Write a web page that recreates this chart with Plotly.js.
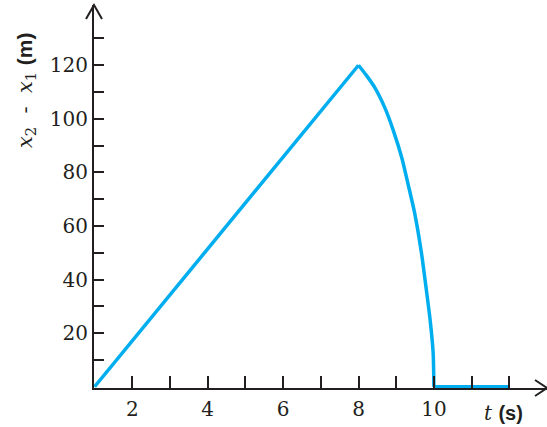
<!DOCTYPE html>
<html>
<head>
<meta charset="utf-8">
<script src="https://cdn.plot.ly/plotly-3.0.1.min.js"></script>
<style>html,body{margin:0;padding:0;background:#fff;}#chart{width:547px;height:427px;}</style>
</head>
<body>
<div id="chart"></div>
<script>
// Relative position of the two stones (x2 - x1, m) vs time (s)
const riseT = [1, 8];
const riseY = [0, 120];
const fallT = [8, 8.20, 8.44, 8.70, 8.92, 9.15, 9.32, 9.49, 9.67, 9.79, 9.90, 9.98, 10];
const fallY = [120, 116.4, 111.5, 104.1, 95.8, 85.4, 75.3, 64.8, 49.9, 37.2, 24.9, 12.6, 0];
const restT = [10, 12];
const restY = [0, 0];

const xMajorTicks = [2, 4, 6, 8, 10];
const xMinorTicks = [3, 5, 7, 9, 11, 12];
const yMajorTicks = [20, 40, 60, 80, 100, 120];
const yMinorTicks = [10, 30, 50, 70, 90, 110, 130];

const ink = '#231f20';
const cyan = '#00aeef';
const tickFont = {family: 'DejaVu Serif', size: 20, color: ink};

function seg(x, y, shape) {
  return {x: x, y: y, type: 'scatter', mode: 'lines',
          line: {color: cyan, width: 3.5, shape: shape, smoothing: 0.6},
          hoverinfo: 'skip'};
}

const data = [seg(riseT, riseY, 'linear'), seg(fallT, fallY, 'spline'), seg(restT, restY, 'linear')];

const layout = {
  width: 547, height: 427,
  margin: {l: 94, r: 0, t: 5, b: 39},
  paper_bgcolor: '#ffffff', plot_bgcolor: '#ffffff',
  showlegend: false,
  xaxis: {
    range: [0.984, 13.0], showgrid: false, zeroline: false,
    showline: true, linecolor: ink, linewidth: 2,
    ticks: 'inside', ticklen: 12, tickwidth: 2, tickcolor: ink,
    tickmode: 'array', tickvals: xMajorTicks, ticktext: xMajorTicks.map(String),
    minor: {tickmode: 'array', tickvals: xMinorTicks, ticks: 'inside', ticklen: 12, tickwidth: 2, tickcolor: ink, showgrid: false},
    tickfont: tickFont, ticklabelstandoff: 2
  },
  yaxis: {
    range: [-0.5, 142.5], showgrid: false, zeroline: false,
    showline: true, linecolor: ink, linewidth: 2,
    ticks: 'inside', ticklen: 10, tickwidth: 2, tickcolor: ink,
    tickmode: 'array', tickvals: yMajorTicks, ticktext: yMajorTicks.map(String),
    minor: {tickmode: 'array', tickvals: yMinorTicks, ticks: 'inside', ticklen: 10, tickwidth: 2, tickcolor: ink, showgrid: false},
    tickfont: tickFont
  },
  shapes: [
    {type: 'path', xref: 'paper', yref: 'paper', xsizemode: 'pixel', ysizemode: 'pixel',
     xanchor: 0, yanchor: 1, path: 'M -8 -14 L 0 0 L 8 -14',
     line: {color: ink, width: 2}},
    {type: 'path', xref: 'paper', yref: 'paper', xsizemode: 'pixel', ysizemode: 'pixel',
     xanchor: 1, yanchor: 0, path: 'M -12 8 L 0 0 L -12 -8',
     line: {color: ink, width: 2}}
  ],
  annotations: [
    {xref: 'paper', yref: 'paper', x: -0.150, y: 0.778, xanchor: 'center', yanchor: 'middle',
     textangle: -90, showarrow: false,
     text: '<i>x</i><sub>2</sub>  -  <i>x</i><sub>1</sub> <span style="font-family:\'Liberation Sans\';font-weight:bold">(m)</span>',
     font: {family: 'DejaVu Serif', size: 21, color: ink}},
    {xref: 'paper', yref: 'paper', x: 0.903, y: -0.065, xanchor: 'center', yanchor: 'middle',
     showarrow: false,
     text: '<i>t</i> <span style="font-family:\'Liberation Sans\';font-weight:bold">(s)</span>',
     font: {family: 'DejaVu Serif', size: 20, color: ink}}
  ]
};

Plotly.newPlot('chart', data, layout, {displayModeBar: false, staticPlot: true});
</script>
</body>
</html>
